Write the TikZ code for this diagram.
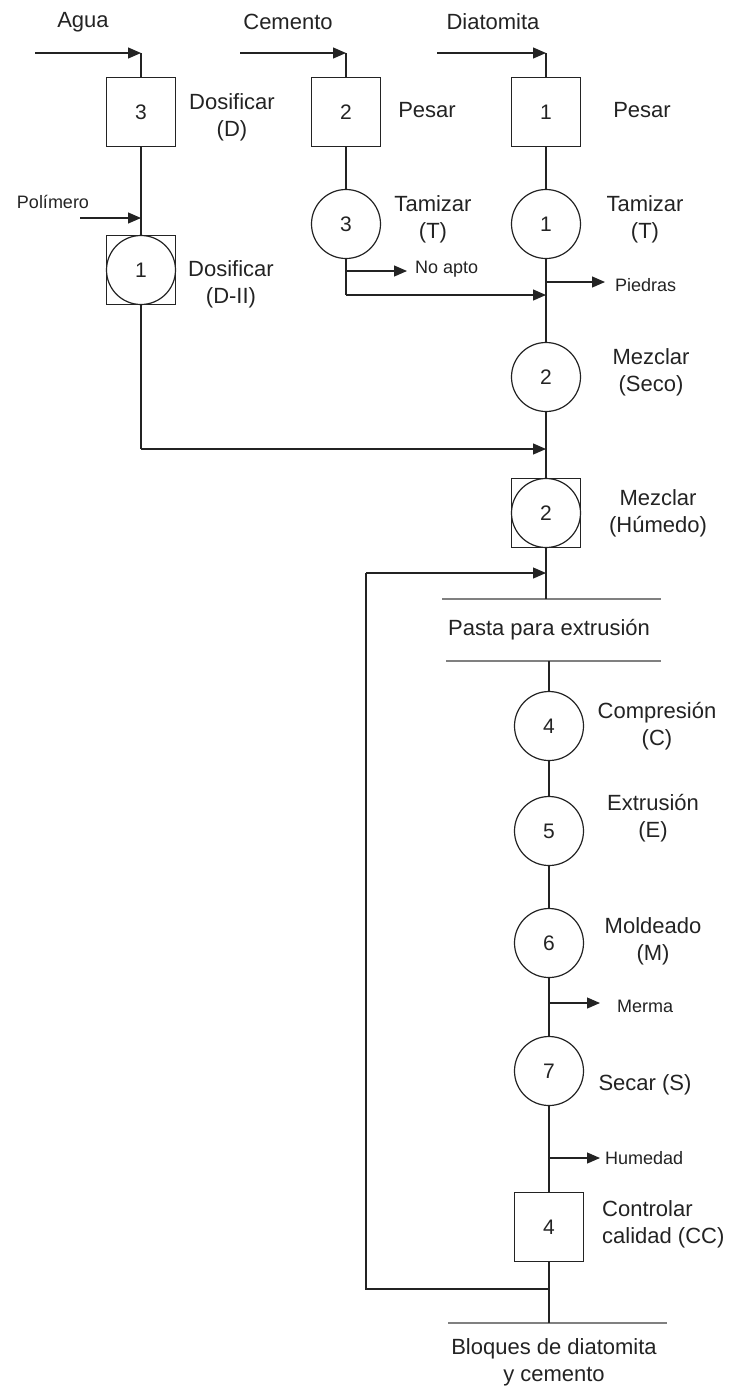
\documentclass[tikz,border=0pt]{standalone}
\usepackage{fontspec}
\setmainfont{Liberation Sans}
\usetikzlibrary{arrows.meta}
\definecolor{ink}{RGB}{35,35,35}
\definecolor{bar}{RGB}{128,128,128}
\newcommand\lblfont{\fontsize{22}{27}\selectfont}
\newcommand\smlfont{\fontsize{18}{22}\selectfont}
\newcommand\numfont{\fontsize{21}{25}\selectfont}
\tikzset{
  line/.style={draw=ink, line width=1.2pt},
  flow/.style={line, -{Triangle[length=13pt,width=11pt]}},
  opbox/.style={draw=ink, line width=1.2pt, rectangle, minimum size=69pt, inner sep=0pt, font=\numfont, text=ink},
  opcirc/.style={draw=ink, line width=1.2pt, circle, minimum size=69pt, inner sep=0pt, font=\numfont, text=ink},
  lbl/.style={font=\lblfont, text=ink, align=center, inner sep=0pt},
  sml/.style={font=\smlfont, text=ink, inner sep=0pt},
  storebar/.style={draw=bar, line width=2.4pt},
}
\begin{document}
\begin{tikzpicture}[x=1pt, y=-1pt]
\useasboundingbox (0,0) rectangle (734,1393);

% ---- raw material headings
\node[lbl] (agua) at (83,22) {Agua};
\node[lbl] (cem) at (288,22) {Cemento};
\node[lbl] (diat) at (493,22) {Diatomita};

% ---- water line
\node[opbox] (d3) at (141,112) {3};
\node[lbl] (d3l) at (232,117) {Dosificar\\(D)};
\node[opbox] (d1) at (141,270) {};
\node[opcirc] (d1c) at (141,270) {1};
\node[lbl] (d1l) at (231,284) {Dosificar\\(D-II)};
\node[sml] (pol) at (53,202) {Polímero};

% ---- cement line
\node[opbox] (p2) at (346,112) {2};
\node[lbl] (p2l) at (427,110) {Pesar};
\node[opcirc] (t3) at (346,224) {3};
\node[lbl] (t3l) at (433,219) {Tamizar\\(T)};
\node[sml, anchor=west] (noapto) at (415,269) {No apto};

% ---- diatomite line
\node[opbox] (p1) at (546,112) {1};
\node[lbl] (p1l) at (642,110) {Pesar};
\node[opcirc] (t1) at (546,224) {1};
\node[lbl] (t1l) at (645,219) {Tamizar\\(T)};
\node[sml, anchor=west] (piedras) at (615,285) {Piedras};

% ---- mixing
\node[opcirc] (m1) at (546,377) {2};
\node[lbl] (m1l) at (651,372) {Mezclar\\(Seco)};
\node[opbox] (m2) at (546,513) {};
\node[opcirc] (m2c) at (546,513) {2};
\node[lbl] (m2l) at (658,513) {Mezclar\\(Húmedo)};

% ---- intermediate storage
\coordinate (pt1) at (442,599);
\coordinate (pt2) at (661,599);
\coordinate (pb1) at (446,661);
\coordinate (pb2) at (661,661);
\draw[storebar] (pt1) -- (pt2);
\draw[storebar] (pb1) -- (pb2);
\node[lbl] (pasta) at (549,630) {Pasta para extrusión};

% ---- forming and finishing
\node[opcirc] (c4) at (549,726) {4};
\node[lbl] (c4l) at (657,726) {Compresión\\(C)};
\node[opcirc] (c5) at (549,831) {5};
\node[lbl] (c5l) at (653,818) {Extrusión\\(E)};
\node[opcirc] (c6) at (549,943) {6};
\node[lbl] (c6l) at (653,941) {Moldeado\\(M)};
\node[sml, anchor=west] (merma) at (617,1006) {Merma};
\node[opcirc] (c7) at (549,1071) {7};
\node[lbl] (c7l) at (645,1085) {Secar (S)};
\node[sml, anchor=west] (hum) at (605,1158) {Humedad};
\node[opbox] (cc) at (549,1227) {4};
\node[lbl, anchor=west, align=left] (ccl) at (602,1224) {Controlar\\calidad (CC)};

% ---- final product
\coordinate (fb1) at (448,1323);
\coordinate (fb2) at (667,1323);
\draw[storebar] (fb1) -- (fb2);
\node[lbl] (fin) at (554,1362) {Bloques de diatomita\\y cemento};

% ---- connection points
\coordinate (ain) at (35,53);   \coordinate (ak) at (141,53);
\coordinate (cin) at (240,53);  \coordinate (ck) at (346,53);
\coordinate (din) at (437,53);  \coordinate (dk) at (546,53);
\coordinate (polin) at (80,218); \coordinate (polk) at (141,218);
\coordinate (t3a) at (346,271); \coordinate (t3b) at (407,271);
\coordinate (t3c) at (346,295); \coordinate (j2) at (546,295);
\coordinate (pa) at (546,282);  \coordinate (pb) at (605,282);
\coordinate (d1b) at (141,449); \coordinate (j1) at (546,449);
\coordinate (ptop) at (546,599); \coordinate (pbot) at (549,661);
\coordinate (ma) at (549,1003); \coordinate (mb) at (600,1003);
\coordinate (ha) at (549,1158); \coordinate (hb) at (600,1158);
\coordinate (rc) at (549,1289); \coordinate (rcb) at (366,1289);
\coordinate (rct) at (366,573); \coordinate (rce) at (546,573);
\coordinate (fend) at (549,1323);

% ---- inputs
\draw[flow] (ain) -- (ak);
\draw[line] (ak) -- (d3.north);
\draw[flow] (cin) -- (ck);
\draw[line] (ck) -- (p2.north);
\draw[flow] (din) -- (dk);
\draw[line] (dk) -- (p1.north);
\draw[flow] (polin) -- (polk);

% ---- water path
\draw[line] (d3.south) -- (d1.north);
\draw[line] (d1.south) -- (d1b);
\draw[flow] (d1b) -- (j1);

% ---- cement path
\draw[line] (p2.south) -- (t3.north);
\draw[line] (t3.south) -- (t3c);
\draw[flow] (t3c) -- (j2);
\draw[flow] (t3a) -- (t3b);

% ---- main path
\draw[line] (p1.south) -- (t1.north);
\draw[line] (t1.south) -- (m1.north);
\draw[flow] (pa) -- (pb);
\draw[line] (m1.south) -- (m2.north);
\draw[line] (m2.south) -- (ptop);
\draw[line] (pbot) -- (c4.north);
\draw[line] (c4.south) -- (c5.north);
\draw[line] (c5.south) -- (c6.north);
\draw[line] (c6.south) -- (c7.north);
\draw[flow] (ma) -- (mb);
\draw[line] (c7.south) -- (cc.north);
\draw[flow] (ha) -- (hb);
\draw[line] (cc.south) -- (fend);

% ---- recycle loop
\draw[line] (rc) -- (rcb) -- (rct);
\draw[flow] (rct) -- (rce);
\end{tikzpicture}
\end{document}
